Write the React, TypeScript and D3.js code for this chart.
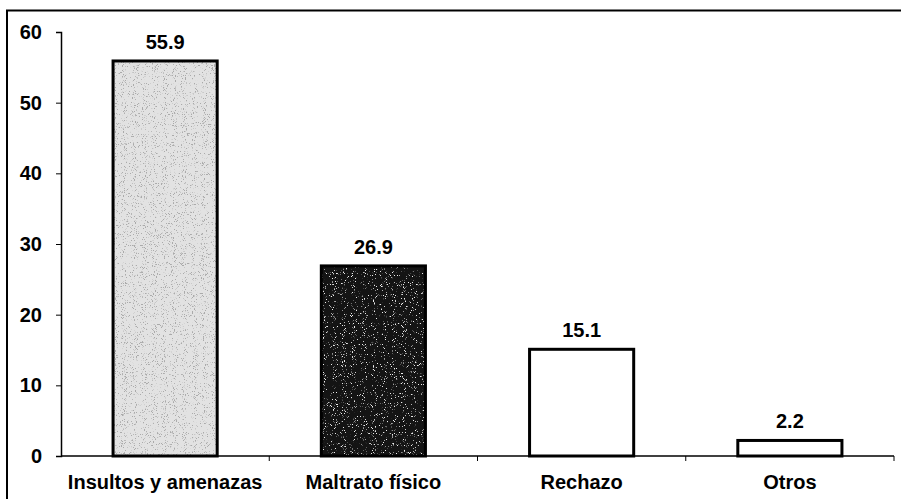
import React, { useRef, useEffect } from 'react';
import * as d3 from 'd3';

const categories = ['Insultos y amenazas', 'Maltrato físico', 'Rechazo', 'Otros'];
const values = [55.9, 26.9, 15.1, 2.2];
const yTicks = [0, 10, 20, 30, 40, 50, 60];
// fill + speckle colour for each bar
const fills = ['#e2e2e2', '#141414', '#ffffff', '#ffffff'];
const speckles = ['dark', 'light', 'none', 'none'];

const W = 901;
const H = 499;

function App() {
  const chartRef = useRef<HTMLDivElement>(null);

  useEffect(() => {
    document.body.style.margin = '0';
    drawChart();
  }, []);

  function drawChart() {
    const root = d3.select(chartRef.current);
    root.selectAll('*').remove();

    const svg = root.append('svg')
      .attr('width', W)
      .attr('height', H)
      .style('display', 'block')
      .style('font-family', '"Liberation Sans", Arial, sans-serif')
      .style('background', '#fff');

    const defs = svg.append('defs');
    const noise = (id: string, c: number, k: number, b: number, seed: number) => {
      const f = defs.append('filter').attr('id', id)
        .attr('x', 0).attr('y', 0).attr('width', 1).attr('height', 1);
      f.append('feTurbulence')
        .attr('type', 'fractalNoise')
        .attr('baseFrequency', 1.1)
        .attr('numOctaves', 2)
        .attr('seed', seed)
        .attr('result', 'n');
      f.append('feColorMatrix')
        .attr('in', 'n')
        .attr('type', 'matrix')
        .attr('values', `0 0 0 0 ${c}  0 0 0 0 ${c}  0 0 0 0 ${c}  ${k} 0 0 0 ${b}`)
        .attr('result', 'm');
      f.append('feComposite').attr('in', 'm').attr('in2', 'SourceGraphic').attr('operator', 'in');
    };
    noise('speck-dark', 0.4, 10, -6.1, 4);
    noise('speck-light', 0.85, 10, -6.4, 9);

    // outer frame (right/bottom edges run off the picture)
    svg.append('rect')
      .attr('x', 7).attr('y', 10.5)
      .attr('width', 1000).attr('height', 1000)
      .attr('fill', 'none')
      .attr('stroke', '#000')
      .attr('stroke-width', 2);

    const x = d3.scaleBand()
      .domain(categories)
      .range([61, 894])
      .paddingInner(0.5)
      .paddingOuter(0.25);

    const y = d3.scaleLinear()
      .domain([0, 60])
      .range([456, 32]);

    // bars
    const bars = svg.append('g');
    categories.forEach((c, i) => {
      const bx = x(c) as number;
      const by = y(values[i]);
      const bh = y(0) - by;
      bars.append('rect')
        .attr('x', bx).attr('y', by)
        .attr('width', x.bandwidth()).attr('height', bh)
        .attr('fill', fills[i]);
      if (speckles[i] !== 'none') {
        bars.append('rect')
          .attr('x', bx).attr('y', by)
          .attr('width', x.bandwidth()).attr('height', bh)
          .attr('fill', '#000')
          .attr('filter', `url(#speck-${speckles[i]})`);
      }
      bars.append('rect')
        .attr('x', bx).attr('y', by)
        .attr('width', x.bandwidth()).attr('height', bh)
        .attr('fill', 'none')
        .attr('stroke', '#000')
        .attr('stroke-width', 3);

      svg.append('text')
        .attr('x', bx + x.bandwidth() / 2)
        .attr('y', by - 12)
        .attr('text-anchor', 'middle')
        .attr('font-size', 20)
        .attr('font-weight', 'bold')
        .text(values[i].toFixed(1));
    });

    // y axis
    const yAxis = d3.axisLeft(y).tickValues(yTicks).tickSize(5).tickPadding(14);
    const gy = svg.append('g')
      .attr('transform', 'translate(61,0)')
      .call(yAxis);
    gy.select('.domain').attr('stroke-width', 1.5);
    gy.selectAll('.tick text')
      .attr('font-size', 20)
      .attr('font-weight', 'bold')
      .attr('font-family', '"Liberation Sans", Arial, sans-serif')
      .attr('fill', '#000');

    // x axis line with separators between categories
    const gx = svg.append('g');
    gx.append('line')
      .attr('x1', 61).attr('x2', 894)
      .attr('y1', y(0)).attr('y2', y(0))
      .attr('stroke', '#000')
      .attr('stroke-width', 1.5);
    const step = x.step();
    categories.forEach((c) => {
      const sx = (x(c) as number) + x.bandwidth() / 2 + step / 2;
      gx.append('line')
        .attr('x1', sx).attr('x2', sx)
        .attr('y1', y(0)).attr('y2', y(0) + 5)
        .attr('stroke', '#000');
      gx.append('text')
        .attr('x', (x(c) as number) + x.bandwidth() / 2)
        .attr('y', 489)
        .attr('text-anchor', 'middle')
        .attr('font-size', 20)
        .attr('font-weight', 'bold')
        .text(c);
    });
  }

  return (
    <div ref={chartRef} />
  );
}

export default App;
